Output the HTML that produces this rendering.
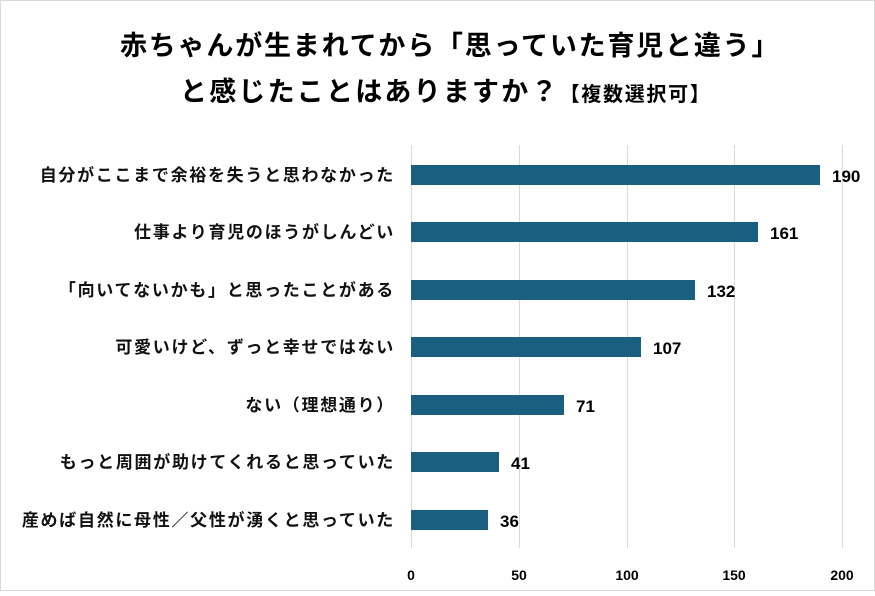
<!DOCTYPE html>
<html><head><meta charset="utf-8"><style>
body{margin:0;background:#fff;}
svg text{font-family:"Liberation Sans","Noto Sans CJK JP",sans-serif;}
</style></head><body>
<svg width="875" height="591" viewBox="0 0 875 591" xmlns="http://www.w3.org/2000/svg">
<rect x="0.5" y="0.5" width="874" height="590" fill="#fff" stroke="#d9d9d9"/>
<text x="120" y="55" font-size="27" font-weight="bold" letter-spacing="1.8" fill="#000">赤ちゃんが生まれてから「思っていた育児と違う」</text>
<text x="180" y="101" font-size="27" font-weight="bold" letter-spacing="2.2" fill="#000">と感じたことはありますか？<tspan font-size="20" letter-spacing="1.7">【複数選択可】</tspan></text>
<g stroke="#d9d9d9" stroke-width="1">
<line x1="411.5" y1="145" x2="411.5" y2="548"/>
<line x1="519.5" y1="145" x2="519.5" y2="548"/>
<line x1="627.5" y1="145" x2="627.5" y2="548"/>
<line x1="734.5" y1="145" x2="734.5" y2="548"/>
<line x1="842.5" y1="145" x2="842.5" y2="548"/>
</g>
<g fill="#1a5e80">
<rect x="411" y="165" width="409" height="20"/>
<rect x="411" y="222" width="347" height="20"/>
<rect x="411" y="280" width="284" height="20"/>
<rect x="411" y="337" width="230" height="20"/>
<rect x="411" y="395" width="153" height="20"/>
<rect x="411" y="452" width="88" height="20"/>
<rect x="411" y="510" width="77" height="20"/>
</g>
<g font-size="17" font-weight="bold" fill="#000">
<text x="832" y="182">190</text>
<text x="770" y="239">161</text>
<text x="707" y="297">132</text>
<text x="653" y="354">107</text>
<text x="576" y="412">71</text>
<text x="511" y="469">41</text>
<text x="500" y="527">36</text>
</g>
<g font-size="17" font-weight="bold" fill="#111" text-anchor="end" letter-spacing="1.7">
<text x="395" y="181">自分がここまで余裕を失うと思わなかった</text>
<text x="395" y="238">仕事より育児のほうがしんどい</text>
<text x="395" y="296">「向いてないかも」と思ったことがある</text>
<text x="395" y="353">可愛いけど、ずっと幸せではない</text>
<text x="395" y="411">ない（理想通り）</text>
<text x="395" y="468">もっと周囲が助けてくれると思っていた</text>
<text x="395" y="526">産めば自然に母性／父性が湧くと思っていた</text>
</g>
<g font-size="14" font-weight="bold" fill="#000" text-anchor="middle">
<text x="411" y="580">0</text>
<text x="519" y="580">50</text>
<text x="627" y="580">100</text>
<text x="734" y="580">150</text>
<text x="842" y="580">200</text>
</g>
</svg>
</body></html>
